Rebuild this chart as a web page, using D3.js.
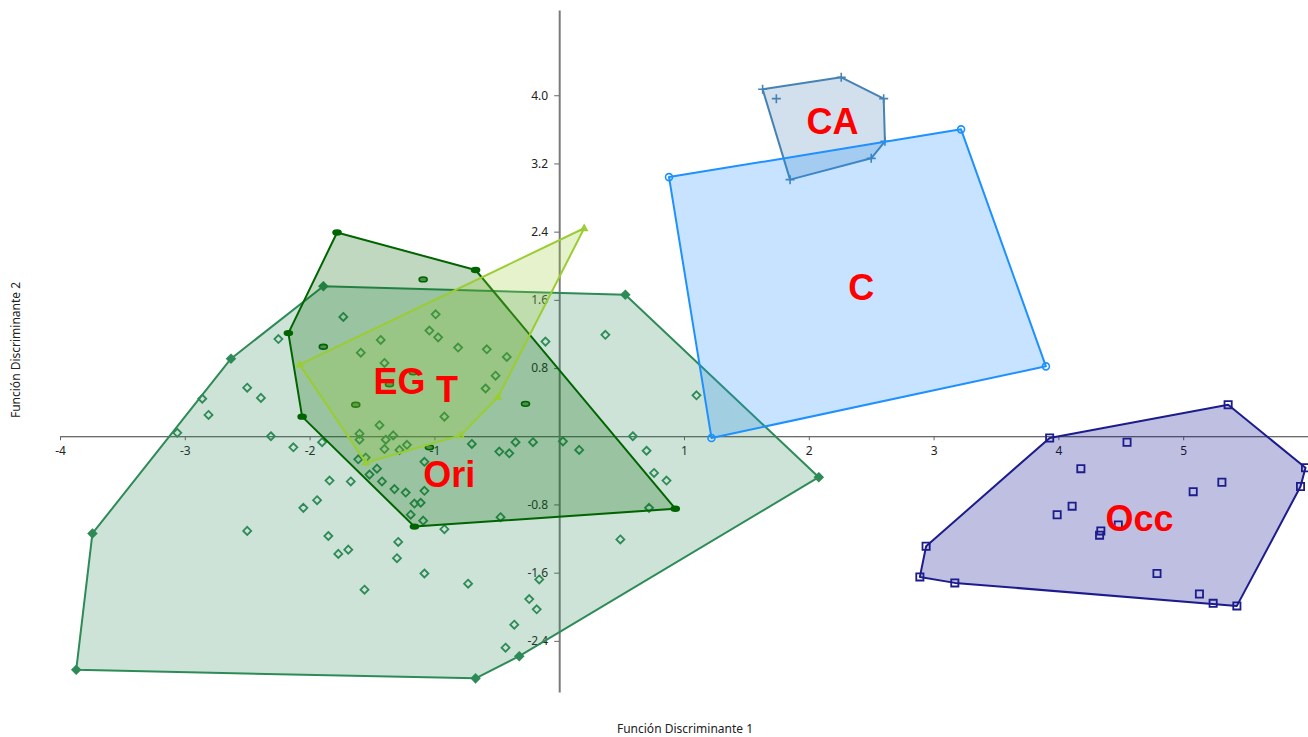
<!DOCTYPE html>
<html>
<head>
<meta charset="utf-8">
<script src="https://cdn.jsdelivr.net/npm/d3@7"></script>
<style>
  body { margin: 0; background: #fff; }
  svg { display: block; }
</style>
</head>
<body>
<svg id="chart" width="1308" height="737"></svg>
<script>
// Discriminant scores (Función 1, Función 2) for each group
const oriPoints = [
  [-1.89, 1.76], [0.53, 1.66], [2.08, -0.48], [-0.32, -2.58], [-0.67, -2.84],
  [-3.87, -2.74], [-3.74, -1.14], [-2.63, 0.91],
  [-2.25, 1.14], [-2.50, 0.57], [-2.39, 0.45], [-2.86, 0.44], [-2.81, 0.25],
  [-3.06, 0.04], [-2.31, 0.00], [-2.13, -0.13], [-2.05, -0.84], [-2.50, -1.11],
  [-1.44, 0.13], [-1.60, 0.03], [-1.60, -0.04], [-1.33, 0.01], [-1.39, -0.04],
  [-1.90, -0.07], [-1.22, -0.10], [-1.28, -0.16], [-1.40, -0.15], [-0.70, -0.09],
  [-0.48, -0.18], [-0.40, -0.20], [-0.35, -0.07], [-0.21, -0.07], [0.03, -0.06],
  [-1.55, -0.25], [-1.61, -0.27], [-1.08, -0.30], [-1.46, -0.38], [-1.52, -0.45],
  [-1.84, -0.52], [-1.67, -0.53], [-1.42, -0.53], [-1.32, -0.62], [-1.23, -0.66],
  [-1.08, -0.64], [-1.94, -0.75], [-1.16, -0.79], [-1.11, -0.78], [-1.19, -0.92],
  [-1.09, -0.99], [-0.47, -0.95], [-0.92, -1.09], [-1.85, -1.17], [-1.29, -1.24],
  [-1.77, -1.38], [-1.69, -1.33], [-1.30, -1.43], [-1.08, -1.61], [-0.73, -1.73],
  [-1.56, -1.80], [-0.16, -1.68], [-0.24, -1.91], [-0.18, -2.03], [-0.36, -2.21],
  [-0.43, -2.48], [0.49, -1.21], [-0.11, 1.11], [0.37, 1.19], [1.10, 0.48],
  [0.16, -0.16], [0.59, 0.00], [0.70, -0.17], [0.76, -0.43], [0.86, -0.52],
  [0.72, -0.84], [-1.73, 1.40], [-0.99, 1.43], [-1.04, 1.24], [-0.97, 1.16],
  [-1.43, 1.13], [-1.59, 0.98], [-0.81, 1.04], [-0.58, 1.02], [-0.42, 0.93],
  [-1.40, 0.86], [-0.51, 0.71], [-0.59, 0.56], [-0.92, 0.23]
];
const egPoints = [
  [-1.78, 2.39], [-0.67, 1.95], [0.93, -0.85], [-1.16, -1.06], [-2.06, 0.23],
  [-2.17, 1.21], [-1.09, 1.84], [-1.89, 1.05], [-1.17, 0.75], [-1.36, 0.61],
  [-1.63, 0.37], [-0.27, 0.38], [-1.04, -0.13]
];
const tPoints = [
  [0.20, 2.44], [-0.49, 0.46], [-0.79, 0.01], [-1.55, -0.31], [-2.08, 0.84]
];
const cPoints = [
  [0.88, 3.04], [3.22, 3.60], [3.90, 0.82], [1.22, -0.02]
];
const caPoints = [
  [1.63, 4.07], [2.26, 4.21], [2.60, 3.96], [2.61, 3.46], [2.50, 3.26],
  [1.85, 3.01], [1.74, 3.96]
];
const occPoints = [
  [3.93, -0.02], [5.36, 0.37], [5.98, -0.37], [5.94, -0.59], [5.43, -1.99],
  [5.24, -1.96], [5.13, -1.85], [3.17, -1.72], [2.89, -1.65], [2.94, -1.29],
  [4.55, -0.07], [4.18, -0.38], [5.31, -0.54], [5.08, -0.65], [4.11, -0.82],
  [3.99, -0.92], [4.34, -1.11], [4.33, -1.16], [4.48, -1.04], [4.79, -1.61]
];

// Group label anchors: name, center x, baseline y (data units)
const groupLabels = [
  ["Ori", -0.88, -0.60],
  ["EG", -1.28, 0.50],
  ["T", -0.90, 0.40],
  ["C", 2.42, 1.60],
  ["CA", 2.19, 3.54],
  ["Occ", 4.65, -1.11]
];

const xTicks = [-4, -3, -2, -1, 1, 2, 3, 4, 5];
const yTicks = [-2.4, -1.6, -0.8, 0.8, 1.6, 2.4, 3.2, 4.0];
const xTitle = "Función Discriminante 1";
const yTitle = "Función Discriminante 2";

const W = 1308, H = 737;
const svg = d3.select("#chart");

const x = d3.scaleLinear().domain([-4, 6]).range([60, 1308]);
const y = d3.scaleLinear().domain([-3, 5]).range([692, 10]);

const groups = [
  { points: oriPoints, stroke: "#2E8B57", fill: "rgba(46,139,87,0.24)", marker: "diamond", solidHull: true },
  { points: egPoints,  stroke: "#006400", fill: "rgba(0,100,0,0.25)",   marker: "ellipse", solidHull: true },
  { points: tPoints,   stroke: "#9ACD32", fill: "rgba(154,205,50,0.25)", marker: "triangle", solidHull: false },
  { points: caPoints,  stroke: "#4682B4", fill: "rgba(70,130,180,0.25)", marker: "plus", solidHull: false },
  { points: cPoints,   stroke: "#1E90FF", fill: "rgba(30,144,255,0.25)", marker: "circle", solidHull: false },
  { points: occPoints, stroke: "#1C1C8C", fill: "rgba(0,0,139,0.25)",   marker: "square", solidHull: false }
];

// Axes
const fontFamily = "'Noto Sans', 'Liberation Sans', Arial, sans-serif";

const xAxis = d3.axisBottom(x)
  .tickValues(xTicks)
  .tickFormat(d => String(d))
  .tickSize(4).tickSizeOuter(0).tickPadding(6);
const yAxis = d3.axisLeft(y)
  .tickValues(yTicks)
  .tickFormat(d => d.toFixed(1))
  .tickSize(5).tickSizeOuter(0).tickPadding(6);

const gx = svg.append("g").attr("transform", `translate(0,${y(0)})`).call(xAxis);
gx.select(".domain").attr("stroke", "#3a3a3a").attr("stroke-width", 1.2);
gx.selectAll(".tick line").attr("stroke", "#666");
gx.selectAll("text").attr("font-family", fontFamily).attr("font-size", 12).attr("fill", "#222");

const gy = svg.append("g").attr("transform", `translate(${x(0)},0)`).call(yAxis);
gy.select(".domain").attr("stroke", "#7a7a7a").attr("stroke-width", 2);
gy.selectAll(".tick line").attr("stroke", "#666");
gy.selectAll("text").attr("font-family", fontFamily).attr("font-size", 12).attr("fill", "#222");

// Marker paths centered on (0,0)
function markerPath(kind) {
  switch (kind) {
    case "diamond": return "M0,-4L4,0L0,4L-4,0Z";
    case "square": return "M-3.6,-3.6H3.6V3.6H-3.6Z";
    case "triangle": return "M0,-3L2.8,2L-2.8,2Z";
    case "plus": return "M-4.5,0H4.5M0,-4.5V4.5";
    default: return null;
  }
}

const plot = svg.append("g");

groups.forEach(g => {
  const px = g.points.map(p => [x(p[0]), y(p[1])]);
  const hull = d3.polygonHull(px);
  const onHull = new Set(hull.map(h => h.join(",")));

  plot.append("path")
    .attr("d", "M" + hull.map(h => h.join(",")).join("L") + "Z")
    .attr("fill", g.fill)
    .attr("stroke", g.stroke)
    .attr("stroke-width", 2)
    .attr("stroke-linejoin", "round");

  const mk = plot.append("g");
  px.forEach(p => {
    const solid = g.solidHull && onHull.has(p.join(","));
    if (g.marker === "circle") {
      mk.append("circle").attr("cx", p[0]).attr("cy", p[1]).attr("r", 3.5)
        .attr("fill", "none").attr("stroke", g.stroke).attr("stroke-width", 1.6);
    } else if (g.marker === "ellipse") {
      mk.append("ellipse").attr("cx", p[0]).attr("cy", p[1]).attr("rx", 4).attr("ry", 2.4)
        .attr("fill", solid ? g.stroke : "#4f8f4f").attr("stroke", g.stroke).attr("stroke-width", 1.6);
    } else {
      mk.append("path").attr("d", markerPath(g.marker))
        .attr("transform", `translate(${p[0]},${p[1]})`)
        .attr("fill", solid ? g.stroke : "none")
        .attr("stroke", g.stroke)
        .attr("stroke-width", g.marker === "plus" ? 1.6 : 1.8);
    }
  });
});

// Group names
svg.append("g").selectAll("text")
  .data(groupLabels)
  .join("text")
  .attr("x", d => x(d[1]))
  .attr("y", d => y(d[2]))
  .attr("text-anchor", "middle")
  .attr("font-family", "'Liberation Sans', Arial, sans-serif")
  .attr("font-weight", "bold")
  .attr("font-size", 36)
  .attr("fill", "#FF0000")
  .text(d => d[0]);

// Axis titles
svg.append("text")
  .attr("x", 685).attr("y", 733)
  .attr("text-anchor", "middle")
  .attr("font-family", fontFamily).attr("font-size", 12).attr("fill", "#222")
  .text(xTitle);

svg.append("text")
  .attr("transform", "translate(20,350) rotate(-90)")
  .attr("text-anchor", "middle")
  .attr("font-family", fontFamily).attr("font-size", 12).attr("fill", "#222")
  .text(yTitle);
</script>
</body>
</html>
